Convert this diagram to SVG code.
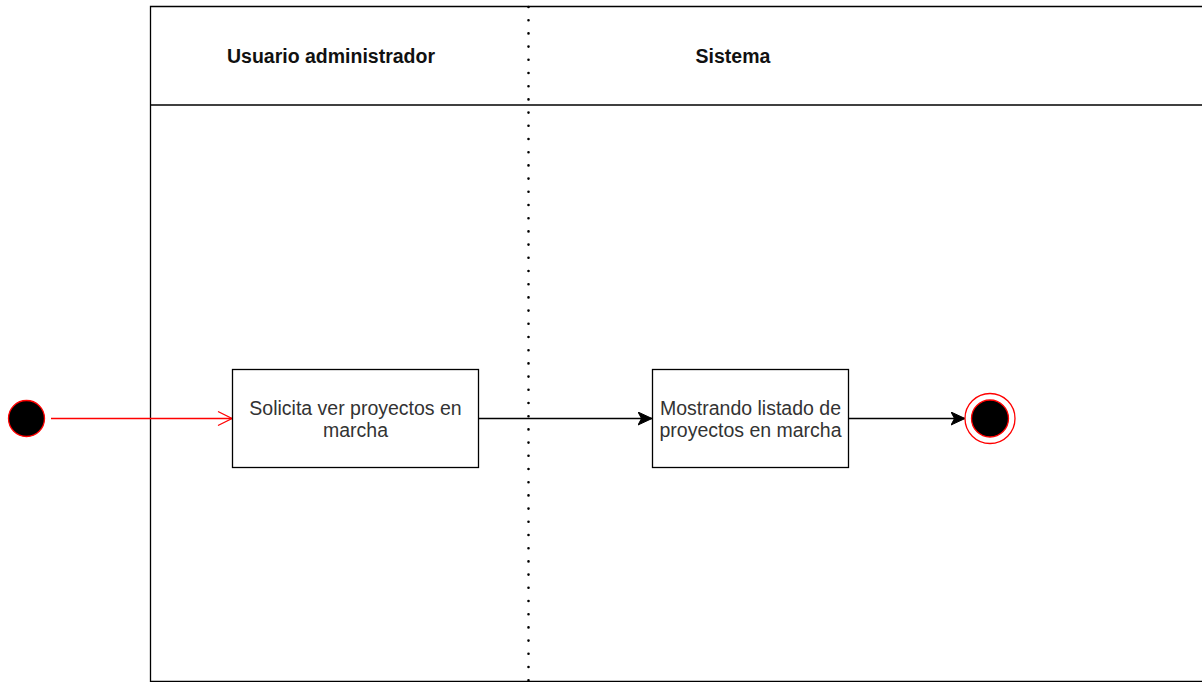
<svg xmlns="http://www.w3.org/2000/svg" width="1202" height="682" viewBox="0 0 1202 682">
  <defs>
    <style>
      .lane { fill: none; stroke: #000; stroke-width: 1.3; }
      .sep { fill: none; stroke: #000; stroke-width: 2.6; stroke-linecap: round; stroke-dasharray: 0 13.2; }
      .head { font-family: "Liberation Sans", Arial, sans-serif; font-size: 19.5px; font-weight: bold; fill: #111; text-anchor: middle; }
      .act { fill: #fff; stroke: #000; stroke-width: 1.3; }
      .lbl { font-family: "Liberation Sans", Arial, sans-serif; font-size: 19.5px; fill: #333; text-anchor: middle; }
      .flow { fill: none; stroke: #000; stroke-width: 1.3; }
      .flow-red { fill: none; stroke: #ff0000; stroke-width: 1.3; }
    </style>
    <marker id="arrowBlock" markerUnits="userSpaceOnUse" markerWidth="16" markerHeight="14" refX="14" refY="7" orient="auto">
      <path d="M14,7 L0,0.5 L3.5,7 L0,13.5 Z" fill="#000" stroke="#000" stroke-width="1"/>
    </marker>
    <marker id="arrowOpen" markerUnits="userSpaceOnUse" markerWidth="18" markerHeight="18" refX="15" refY="9" orient="auto">
      <path d="M1,2 L15,9 L1,16" fill="none" stroke="#ff0000" stroke-width="1.3"/>
    </marker>
  </defs>

  <!-- swimlane pool -->
  <g id="pool">
    <path class="lane" d="M1210,6.5 H150.5 V681.5 H1210"/>
    <line class="lane" x1="150.5" y1="105" x2="1210" y2="105"/>
    <line class="sep" x1="528.5" y1="7" x2="528.5" y2="690"/>
  </g>

  <g id="lane-usuario">
    <text class="head" x="331" y="63">Usuario administrador</text>
  </g>
  <g id="lane-sistema">
    <text class="head" x="733" y="63">Sistema</text>
  </g>

  <!-- connectors -->
  <g id="connectors">
    <line class="flow-red" x1="51" y1="418.5" x2="232" y2="418.5" marker-end="url(#arrowOpen)"/>
    <line class="flow" x1="479" y1="418.5" x2="652" y2="418.5" marker-end="url(#arrowBlock)"/>
    <line class="flow" x1="849" y1="418.5" x2="965" y2="418.5" marker-end="url(#arrowBlock)"/>
  </g>

  <g id="start">
    <circle cx="26.5" cy="418.5" r="18" fill="#000" stroke="#ff0000" stroke-width="1.3"/>
  </g>

  <g id="solicita">
    <rect class="act" x="232.5" y="369.5" width="246" height="98"/>
    <text class="lbl" x="355.5" y="415">Solicita ver proyectos en</text>
    <text class="lbl" x="355.5" y="437">marcha</text>
  </g>

  <g id="mostrando">
    <rect class="act" x="652.5" y="369.5" width="196" height="98"/>
    <text class="lbl" x="750.5" y="415">Mostrando listado de</text>
    <text class="lbl" x="750.5" y="437">proyectos en marcha</text>
  </g>

  <g id="end">
    <circle cx="990" cy="418.5" r="25" fill="#fff" stroke="#ff0000" stroke-width="1.3"/>
    <circle cx="990" cy="418.5" r="18.5" fill="#000" stroke="#ff0000" stroke-width="1.3"/>
  </g>
</svg>
